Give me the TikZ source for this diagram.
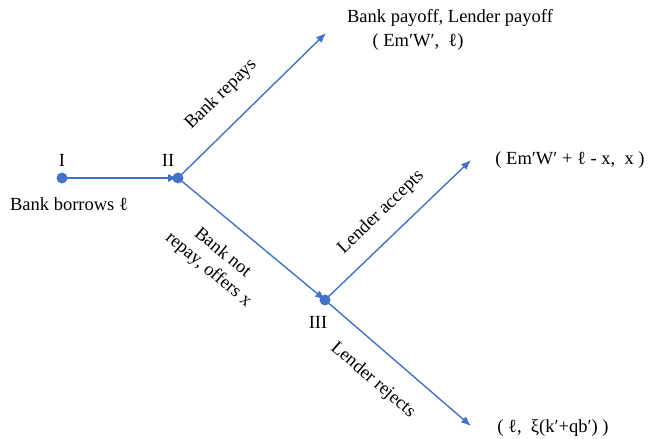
\documentclass[tikz,border=0pt]{standalone}
\usepackage{fontspec}
\setmainfont{Liberation Serif}
\usetikzlibrary{arrows.meta}
\definecolor{astblau}{RGB}{68,114,196}
\begin{document}
\begin{tikzpicture}[x=1pt, y=-1pt,
    >={Latex[length=10pt,width=8pt]},   %Pfeilspitzen
    ast/.style={->, color=astblau, line width=1.4pt},
    punkt/.style={circle, fill=astblau, inner sep=0pt, minimum size=11pt},
    font=\fontsize{18.5}{22}\selectfont]
    \useasboundingbox (0,0) rectangle (651,439);
    %Entscheidungsknoten
    \coordinate (I) at (62,178);
    \coordinate (II) at (178,178);
    \coordinate (III) at (325,300);
    \coordinate (endeA) at (326,33);
    \coordinate (endeB) at (471,160);
    \coordinate (endeC) at (471,426);
    % Aeste zeichnen
    \draw[ast] (I) -- (II);
    \draw[ast] (II) -- (endeA) node[pos=0.43, sloped, above=17pt, black] {Bank repays};
    \draw[ast] (II) -- (III) node[pos=0.43, sloped, below=17pt, black, align=center] {Bank not\\repay, offers x};
    \draw[ast] (III) -- (endeB) node[pos=0.5, sloped, above=12pt, black] {Lender accepts};
    \draw[ast] (III) -- (endeC) node[pos=0.46, sloped, below=17pt, black] {Lender rejects};
    % Punkte
    \node[punkt] (pI) at (I) {};
    \node[punkt] (pII) at (II) {};
    \node[punkt] (pIII) at (III) {};
    % Beschriftung
    \node (lI) at (62,160) {I};
    \node (lII) at (168,160) {II};
    \node (lIII) at (318,322) {III};
    \node (borgt) at (69,204) {Bank borrows ℓ};
    \node (kopf) at (450,18) {Bank payoff, Lender payoff};
    \node (zahlA) at (418,42) {( Em′W′,~ ℓ)};
    \node (zahlB) at (570,160) {( Em′W′ + ℓ - x,~ x )};
    \node (zahlC) at (553,428) {( ℓ,~ ξ(k′+qb′) )};
\end{tikzpicture}
\end{document}
